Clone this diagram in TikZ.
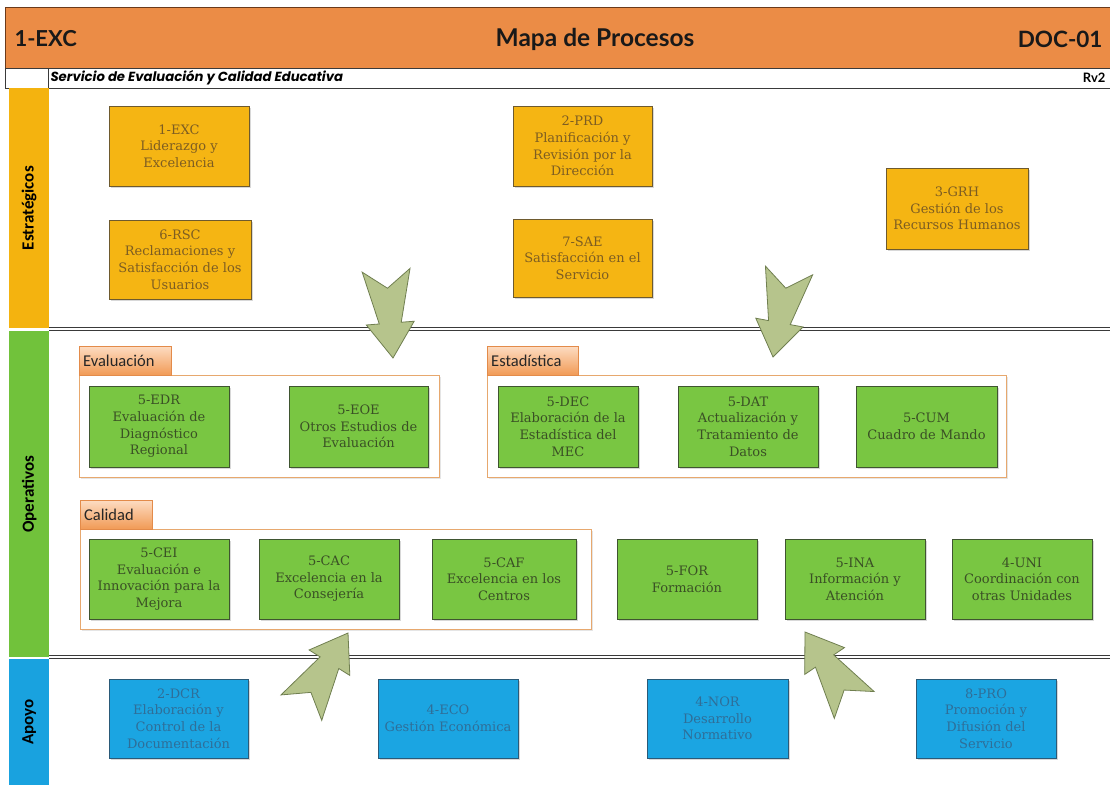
\documentclass[tikz,border=0pt]{standalone}
\usepackage{fontspec}
\setmainfont{DejaVu Serif}
\newfontfamily\hdrfont{Lato}
\newfontfamily\subfont{Poppins}
\newfontfamily\calfont{Carlito}
\usetikzlibrary{shadows}
\definecolor{hdrorange}{HTML}{EB8C46}
\definecolor{hdrline}{HTML}{6B3A1A}
\definecolor{goldfill}{HTML}{F5B513}
\definecolor{goldline}{HTML}{6E5A2E}
\definecolor{goldtext}{HTML}{7D5D22}
\definecolor{greenfill}{HTML}{79C642}
\definecolor{greenline}{HTML}{3F5530}
\definecolor{greentext}{HTML}{3A5025}
\definecolor{bluefill}{HTML}{1BA5E2}
\definecolor{blueline}{HTML}{2A5A78}
\definecolor{bluetext}{HTML}{2F6E98}
\definecolor{lanegold}{HTML}{F4B30F}
\definecolor{lanegreen}{HTML}{71C23B}
\definecolor{laneblue}{HTML}{19A2DF}
\definecolor{arrowfill}{HTML}{B6C48C}
\definecolor{arrowline}{HTML}{707F50}
\definecolor{tabtop}{HTML}{FDDCC2}
\definecolor{tabbot}{HTML}{F19A55}
\definecolor{tabline}{HTML}{E38B4A}
\definecolor{contline}{HTML}{E7A86E}
\definecolor{sepline}{HTML}{3A3A3A}
\begin{document}
\begin{tikzpicture}[x=1pt,y=-1pt,
 pbox/.style={rectangle, inner sep=1pt, align=center, minimum width=140pt, minimum height=80pt, line width=0.9pt, font=\fontsize{13}{16.6}\selectfont, drop shadow={opacity=0.3, shadow xshift=1.5pt, shadow yshift=-1.5pt}},
 sbox/.style={pbox, fill=goldfill, draw=goldline, text=goldtext},
 obox/.style={pbox, fill=greenfill, draw=greenline, text=greentext},
 abox/.style={pbox, fill=bluefill, draw=blueline, text=bluetext},
 lane/.style={anchor=north west, inner sep=0, minimum width=40pt},
 lanelabel/.style={rotate=90, font=\calfont\bfseries\fontsize{17}{17}\selectfont, text=black},
 cont/.style={anchor=north west, inner sep=0, draw=contline, fill=white, line width=0.8pt, drop shadow={opacity=0.2, shadow xshift=1.5pt, shadow yshift=-1.5pt}},
 tab/.style={anchor=north west, inner sep=0, inner xsep=4pt, minimum height=29pt, draw=tabline, top color=tabtop, bottom color=tabbot, font=\calfont\fontsize{16.5}{16.5}\selectfont, text=black!85, align=left},
 sep/.style={draw=sepline, line width=0.9pt},
 barrow/.pic={\draw[fill=arrowfill, draw=arrowline, line width=0.8pt, line join=miter] (0,0) -- (24,35) -- (11,35) -- (24,88) -- (0,70) -- (-24,88) -- (-11,35) -- (-24,35) -- cycle;}
]
\useasboundingbox (0,0) rectangle (1110,785);
\fill[white] (0,0) rectangle (1110,785);
% header
\node[anchor=north west, fill=hdrorange, draw=hdrline, line width=0.6pt, minimum width=1105pt, minimum height=61pt, inner sep=0] (header) at (5,7) {};
\node[anchor=west, font=\hdrfont\bfseries\fontsize{22}{22}\selectfont, text=black!90] (code) at (11,39) {1-EXC};
\node[font=\hdrfont\bfseries\fontsize{24.5}{24.5}\selectfont, text=black!90] (title) at (595,39) {Mapa de Procesos};
\node[anchor=east, font=\hdrfont\bfseries\fontsize{22.5}{22.5}\selectfont, text=black!90] (doc) at (1106,39) {DOC-01};
\node[anchor=north west, draw=sepline, fill=white, line width=0.6pt, minimum width=43pt, minimum height=20pt, inner sep=0] (subleft) at (5,68) {};
\node[anchor=north west, draw=sepline, fill=white, line width=0.6pt, minimum width=1062pt, minimum height=20pt, inner sep=0] (subband) at (48,68) {};
\node[anchor=west, font=\subfont\bfseries\itshape\fontsize{13.2}{13.2}\selectfont] (sub) at (47,78) {Servicio de Evaluación y Calidad Educativa};
\node[anchor=east, font=\hdrfont\bfseries\fontsize{13}{13}\selectfont] (rev) at (1109,78) {Rv2};
% lanes
\node[lane, fill=lanegold, minimum height=240pt] (lest) at (9,88) {};
\node[lanelabel] (lestl) at (lest.center) {Estratégicos};
\node[lane, fill=lanegreen, minimum height=326pt] (lope) at (9,331) {};
\node[lanelabel] (lopel) at (lope.center) {Operativos};
\node[lane, fill=laneblue, minimum height=126pt] (lapo) at (9,659) {};
\node[lanelabel] (lapol) at (lapo.center) {Apoyo};
% separators
\coordinate (s1a) at (49,327.3); \coordinate (s1b) at (1110,327.3);
\coordinate (s2a) at (49,330.5); \coordinate (s2b) at (1110,330.5);
\coordinate (s3a) at (49,655); \coordinate (s3b) at (1110,655);
\coordinate (s4a) at (49,658.3); \coordinate (s4b) at (1110,658.3);
\draw[sep] (s1a) -- (s1b);
\draw[sep] (s2a) -- (s2b);
\draw[sep] (s3a) -- (s3b);
\draw[sep] (s4a) -- (s4b);
% strategic
\node[sbox] (exc) at (179,146) {1-EXC\\Liderazgo y\\Excelencia};
\node[sbox, minimum width=142pt, minimum height=79pt] (rsc) at (180,259.5) {6-RSC\\Reclamaciones y\\Satisfacción de los\\Usuarios};
\node[sbox, minimum width=139pt] (prd) at (582.5,146) {2-PRD\\Planificación y\\Revisión por la\\Dirección};
\node[sbox, minimum width=139pt, minimum height=78pt] (sae) at (582.5,258) {7-SAE\\Satisfacción en el\\Servicio};
\node[sbox, minimum width=142pt, minimum height=81pt] (grh) at (957,208.5) {3-GRH\\Gestión de los\\Recursos Humanos};
% containers and tabs
\node[cont, minimum width=360pt, minimum height=102pt] (ceval) at (79,375) {};
\node[tab, text width=84pt] (teval) at (79,346) {Evaluación};
\node[cont, minimum width=519pt, minimum height=102pt] (cest) at (487,375) {};
\node[tab, text width=83pt] (test) at (487,346) {Estadística};
\node[cont, minimum width=511pt, minimum height=100pt] (ccal) at (80,529) {};
\node[tab, text width=64pt] (tcal) at (80,500) {Calidad};
% operative
\node[obox, minimum height=81pt] (edr) at (159,426.5) {5-EDR\\Evaluación de\\Diagnóstico\\Regional};
\node[obox, minimum width=139pt, minimum height=81pt] (eoe) at (358.5,426.5) {5-EOE\\Otros Estudios de\\Evaluación};
\node[obox, minimum height=81pt] (dec) at (568,426.5) {5-DEC\\Elaboración de la\\Estadística del\\MEC};
\node[obox, minimum height=81pt] (dat) at (748,426.5) {5-DAT\\Actualización y\\Tratamiento de\\Datos};
\node[obox, minimum width=141pt, minimum height=81pt] (cum) at (926.5,426.5) {5-CUM\\Cuadro de Mando};
\node[obox] (cei) at (159,579) {5-CEI\\Evaluación e\\Innovación para la\\Mejora};
\node[obox] (cac) at (329,579) {5-CAC\\Excelencia en la\\Consejería};
\node[obox, minimum width=144pt] (caf) at (504,579) {5-CAF\\Excelencia en los\\Centros};
\node[obox] (for) at (687,579) {5-FOR\\Formación};
\node[obox] (ina) at (855,579) {5-INA\\Información y\\Atención};
\node[obox] (uni) at (1022,579) {4-UNI\\Coordinación con\\otras Unidades};
% support
\node[abox, minimum width=139pt, minimum height=79pt] (dcr) at (178.5,718.5) {2-DCR\\Elaboración y\\Control de la\\Documentación};
\node[abox, minimum height=79pt] (eco) at (448,718.5) {4-ECO\\Gestión Económica};
\node[abox, minimum width=141pt, minimum height=79pt] (nor) at (717.5,718.5) {4-NOR\\Desarrollo\\Normativo};
\node[abox, minimum height=79pt] (pro) at (986,718.5) {8-PRO\\Promoción y\\Difusión del\\Servicio};
% block arrows
\pic[rotate=-175.5] (arrA) at (393,358) {barrow};
\pic[rotate=169.5] (arrB) at (773,357) {barrow};
\pic[rotate=-32] (arrC) at (348,633) {barrow};
\pic[rotate=34] (arrD) at (805,632) {barrow};
\end{tikzpicture}
\end{document}
